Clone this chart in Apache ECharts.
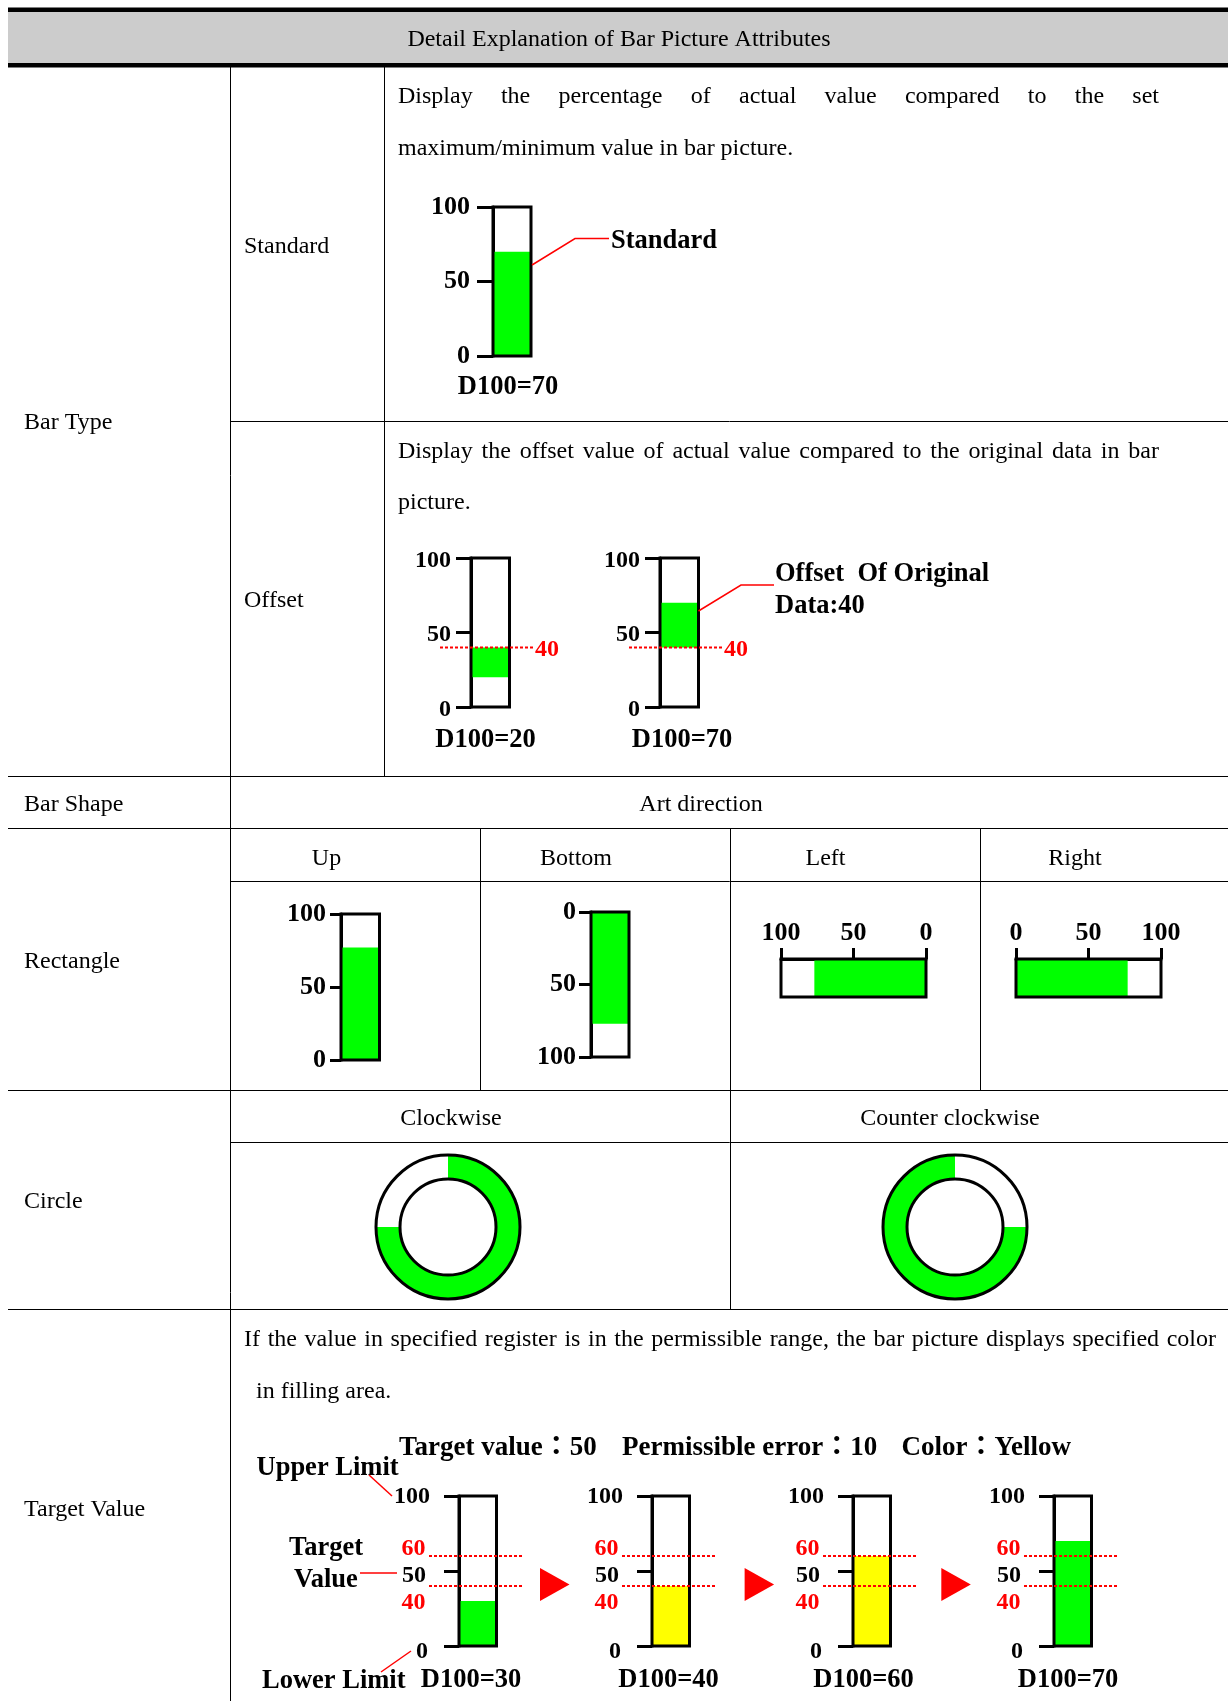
<!DOCTYPE html>
<html><head><meta charset="utf-8">
<script src="https://cdn.jsdelivr.net/npm/echarts@6/dist/echarts.min.js"></script>
<style>html,body{margin:0;padding:0;background:#fff}#c{width:1228px;height:1701px}</style>
</head><body><div id="c"></div><script>
// ---------------- data ----------------
const tickValues = [0, 50, 100];
const standardValue = 70;
const offsetOrigin = 40;
const offsetValues = [20, 70];
const rectDirections = ['Up', 'Bottom', 'Left', 'Right'];
const rectValue = 77;
const circleDirections = ['Clockwise', 'Counter clockwise'];
const circleValue = 75;
const targetValue = 50;
const permissibleError = 10;
const targetValues = [30, 40, 60, 70];

// ---------------- helpers ----------------
const FONT = '"Liberation Serif","Times New Roman","Noto Sans CJK TC",serif';
const GREEN = '#00ff00', YELLOW = '#ffff00', RED = '#ff0000';
const AXMIN = tickValues[0], AXMAX = tickValues[tickValues.length - 1], AXINT = tickValues[1] - tickValues[0];
const grids = [], xAxis = [], yAxis = [], series = [], graphics = [];
const ctx = document.createElement('canvas').getContext('2d');
const TY = 2; // vertical text nudge
const BFS = 26.5; // bold annotation font size

function txt(t, x, y, o) {
  o = o || {};
  const al = o.align || 'left';
  graphics.push({type: 'text', z: 20, silent: true, style: {
    text: t, x: x, y: y + TY, fill: o.color || '#000', fontSize: o.fs || 24, fontFamily: FONT,
    fontWeight: o.bold ? 'bold' : 'normal', align: al, verticalAlign: 'middle'}});
}
function justified(text, x0, x1, y, fs) {
  const words = text.split(' ');
  ctx.font = fs + 'px "Liberation Serif"';
  const ws = words.map(w => ctx.measureText(w).width);
  const total = ws.reduce((a, b) => a + b, 0);
  const gap = (x1 - x0 - total) / (words.length - 1);
  let x = x0;
  words.forEach((w, i) => { txt(w, x, y, {fs: fs}); x += ws[i] + gap; });
}
function hline(y, x0, x1) { graphics.push({type: 'line', z: 1, silent: true, shape: {x1: x0, y1: y, x2: x1, y2: y}, style: {stroke: '#000', lineWidth: 1}}); }
function vline(x, y0, y1) { graphics.push({type: 'line', z: 1, silent: true, shape: {x1: x, y1: y0, x2: x, y2: y1}, style: {stroke: '#000', lineWidth: 1}}); }
function poly(points, color, w) { graphics.push({type: 'polyline', z: 20, silent: true, shape: {points: points}, style: {stroke: color, lineWidth: w, fill: null}}); }

function boxGrid(o) {
  const gi = grids.length;
  grids.push({left: o.left, top: o.top, width: o.width, height: o.height, show: true,
    borderColor: '#000', borderWidth: 3, backgroundColor: 'rgba(0,0,0,0)', z: 5});
  return gi;
}
function valueAxis(gi, o) {
  return {type: 'value', gridIndex: gi, min: AXMIN, max: AXMAX, interval: AXINT, inverse: !!o.inverse,
    position: o.position, splitLine: {show: false},
    axisLine: {show: true, lineStyle: {color: '#000', width: 3}},
    axisTick: {show: true, length: o.tick, lineStyle: {color: '#000', width: 3}},
    axisLabel: {show: true, margin: o.margin, color: '#000', fontFamily: FONT, fontWeight: 'bold',
      fontSize: o.fs, formatter: o.formatter, rich: o.rich}};
}
function vBar(o) {
  const gi = boxGrid(o);
  const xi = xAxis.length; xAxis.push({type: 'category', gridIndex: gi, data: [''], show: false});
  const yi = yAxis.length; yAxis.push(valueAxis(gi, o));
  return {xi, yi};
}
function hBar(o, value) {
  const gi = boxGrid(o);
  const xi = xAxis.length; xAxis.push(valueAxis(gi, Object.assign({position: 'top'}, o)));
  const yi = yAxis.length; yAxis.push({type: 'category', gridIndex: gi, data: [''], show: false});
  series.push({type: 'bar', xAxisIndex: xi, yAxisIndex: yi, data: [value], barWidth: '100%', silent: true, itemStyle: {color: GREEN}});
}
function refLines(o) {
  const gi = grids.length;
  grids.push({left: o.left, top: o.top, width: o.width, height: o.height, show: false});
  const xi = xAxis.length; xAxis.push({type: 'value', gridIndex: gi, min: 0, max: 1, show: false});
  const yi = yAxis.length; yAxis.push({type: 'value', gridIndex: gi, min: AXMIN, max: AXMAX, show: false});
  o.lines.forEach(ln => {
    const lbl = {show: true, position: o.side, distance: o.dist, color: RED, fontFamily: FONT, fontWeight: 'bold',
      fontSize: o.fs, formatter: () => '{r|' + ln.v + '}', rich: {r: {padding: ln.pad || [0, 0, 0, 0]}}};
    const p0 = {value: [0, ln.v]}, p1 = {value: [1, ln.v]};
    if (o.side === 'left') p0.label = lbl; else p1.label = lbl;
    series.push({type: 'line', xAxisIndex: xi, yAxisIndex: yi, z: 6, silent: true, symbol: 'circle', symbolSize: 1,
      itemStyle: {color: 'rgba(0,0,0,0)'}, lineStyle: {color: RED, width: 2, type: [3, 2]},
      label: {show: false}, data: [p0, p1]});
  });
}

// ---------------- table frame ----------------
graphics.push({type: 'rect', z: 0, silent: true, shape: {x: 8, y: 12, width: 1220, height: 51}, style: {fill: '#cccccc'}});
graphics.push({type: 'rect', z: 1, silent: true, shape: {x: 8, y: 7.5, width: 1220, height: 4.5}, style: {fill: '#000'}});
graphics.push({type: 'rect', z: 1, silent: true, shape: {x: 8, y: 63, width: 1220, height: 4.5}, style: {fill: '#000'}});
hline(421.5, 231, 1228);
hline(776.5, 8, 1228);
hline(828.5, 8, 1228);
hline(881.5, 231, 1228);
hline(1090.5, 8, 1228);
hline(1142.5, 231, 1228);
hline(1309.5, 8, 1228);
vline(230.5, 67, 1701);
vline(384.5, 67, 776);
vline(480.5, 828, 1090);
vline(730.5, 828, 1309);
vline(980.5, 828, 1090);

// ---------------- texts ----------------
txt('Detail Explanation of Bar Picture Attributes', 619, 38, {align: 'center'});
txt('Bar Type', 24, 421);
txt('Standard', 244, 245);
txt('Offset', 244, 599);
txt('Bar Shape', 24, 803);
txt('Art direction', 701, 803, {align: 'center'});
const rectHeadX = [326.5, 576, 825.5, 1075];
rectDirections.forEach((d, i) => txt(d, rectHeadX[i], 857, {align: 'center'}));
txt('Rectangle', 24, 960);
const circHeadX = [451, 950];
circleDirections.forEach((d, i) => txt(d, circHeadX[i], 1117, {align: 'center'}));
txt('Circle', 24, 1200);
txt('Target Value', 24, 1508);

justified('Display the percentage of actual value compared to the set', 398, 1159, 95, 24);
txt('maximum/minimum value in bar picture.', 398, 146.5);
justified('Display the offset value of actual value compared to the original data in bar', 398, 1159, 450, 24);
txt('picture.', 398, 501);
justified('If the value in specified register is in the permissible range, the bar picture displays specified color', 244, 1216, 1338, 24);
txt('in filling area.', 256, 1390);

// ---------------- Standard ----------------
{
  const a = vBar({left: 493, top: 207, width: 38, height: 149, tick: 16, margin: 23, fs: 26});
  series.push({type: 'bar', xAxisIndex: a.xi, yAxisIndex: a.yi, data: [standardValue], barWidth: '100%', silent: true, itemStyle: {color: GREEN}});
  poly([[532, 265], [575, 238.5], [609, 238.5]], RED, 1.5);
  txt('Standard', 611, 239, {bold: true, fs: BFS});
  txt('D100=' + standardValue, 508, 385, {bold: true, fs: BFS, align: 'center'});
}

// ---------------- Offset ----------------
const offsetLefts = [471, 660];
const offsetLabelX = [485.5, 682];
offsetValues.forEach((v, i) => {
  const L = offsetLefts[i];
  const a = vBar({left: L, top: 558, width: 38.5, height: 149, tick: 15, margin: 20, fs: 24,
    formatter: val => '{p|' + val + '}', rich: {p: {padding: [5, 0, 0, 0]}}});
  const stack = 'off' + i;
  series.push({type: 'bar', stack, xAxisIndex: a.xi, yAxisIndex: a.yi, data: [Math.min(v, offsetOrigin)], barWidth: '100%', silent: true, itemStyle: {color: 'rgba(0,0,0,0)'}});
  series.push({type: 'bar', stack, xAxisIndex: a.xi, yAxisIndex: a.yi, data: [Math.abs(v - offsetOrigin)], barWidth: '100%', silent: true, itemStyle: {color: GREEN}});
  refLines({left: L - 31, top: 558, width: 38.5 + 31 + 24, height: 149, side: 'right', dist: 1, fs: 24,
    lines: [{v: offsetOrigin, pad: [5, 0, 0, 0]}]});
  txt('D100=' + v, offsetLabelX[i], 738, {bold: true, fs: BFS, align: 'center'});
});
poly([[698.5, 611], [741, 585], [774, 585]], RED, 1.5);
txt('Offset  Of Original', 775, 572, {bold: true, fs: BFS});
txt('Data:' + offsetOrigin, 775, 604, {bold: true, fs: BFS});

// ---------------- Rectangle ----------------
{
  const a = vBar({left: 341, top: 914, width: 38.5, height: 146, tick: 11, margin: 15, fs: 26});
  series.push({type: 'bar', xAxisIndex: a.xi, yAxisIndex: a.yi, data: [rectValue], barWidth: '100%', silent: true, itemStyle: {color: GREEN}});
  const b = vBar({left: 591, top: 912, width: 38, height: 145, tick: 12, margin: 15, fs: 26, inverse: true});
  series.push({type: 'bar', xAxisIndex: b.xi, yAxisIndex: b.yi, data: [rectValue], barWidth: '100%', silent: true, itemStyle: {color: GREEN}});
  hBar({left: 781, top: 959, width: 145, height: 38, tick: 11, margin: 13, fs: 26, inverse: true}, rectValue);
  hBar({left: 1016, top: 959, width: 145, height: 38, tick: 11, margin: 13, fs: 26, inverse: false}, rectValue);
}

// ---------------- Circle ----------------
const circCenters = [[448, 1227], [955, 1227]];
circleDirections.forEach((d, i) => {
  series.push({type: 'pie', center: circCenters[i], radius: [48, 72], startAngle: 90, clockwise: i === 0,
    silent: true, label: {show: false}, labelLine: {show: false}, emphasis: {disabled: true},
    itemStyle: {borderWidth: 0},
    data: [{name: d, value: circleValue, itemStyle: {color: GREEN}},
           {name: 'rest', value: AXMAX - circleValue, itemStyle: {color: '#ffffff'}}]});
  [72, 48].forEach(r => graphics.push({type: 'circle', z: 20, silent: true,
    shape: {cx: circCenters[i][0], cy: circCenters[i][1], r: r}, style: {fill: null, stroke: '#000', lineWidth: 3}}));
});

// ---------------- Target value ----------------
const targetLefts = [459, 652, 853, 1054];
const targetLabelX = [471, 668.5, 863.5, 1068];
const upper = targetValue + permissibleError, lower = targetValue - permissibleError;
targetValues.forEach((v, i) => {
  const L = targetLefts[i];
  const a = vBar({left: L, top: 1496, width: 37.5, height: 150, tick: 15, margin: 29, fs: 24,
    formatter: val => val === AXMIN ? '{lo|' + val + '}' : (val === targetValue ? '{mid|' + val + '}' : '{hi|' + val + '}'),
    rich: {lo: {padding: [12, 2, 0, 0]}, mid: {padding: [9, 4, 0, 0]}, hi: {padding: [2, 0, 0, 0]}}});
  const inRange = Math.abs(v - targetValue) <= permissibleError;
  series.push({type: 'bar', xAxisIndex: a.xi, yAxisIndex: a.yi, data: [v], barWidth: '100%', silent: true, itemStyle: {color: inRange ? YELLOW : GREEN}});
  refLines({left: L - 30, top: 1496, width: 37.5 + 30 + 26.5, height: 150, side: 'left', dist: 3, fs: 24,
    lines: [{v: upper, pad: [0, 0, 14, 0]}, {v: lower, pad: [34, 0, 0, 0]}]});
  txt('D100=' + v, targetLabelX[i], 1678, {bold: true, fs: BFS, align: 'center'});
});
[[540, 744.6, 941.3]].forEach(xs => xs.forEach(x => graphics.push({type: 'polygon', z: 20, silent: true,
  shape: {points: [[x, 1568], [x + 29.5, 1584.5], [x, 1601]]}, style: {fill: RED}})));
txt('Target value：' + targetValue, 399, 1446, {bold: true, fs: 27});
txt('Permissible error：' + permissibleError, 622, 1446, {bold: true, fs: 27});
txt('Color：Yellow', 901.5, 1446, {bold: true, fs: 27});
txt('Upper Limit', 256.5, 1466, {bold: true, fs: BFS});
poly([[369, 1475], [392, 1496]], RED, 1.5);
txt('Target', 289, 1546, {bold: true, fs: BFS});
txt('Value', 294, 1578, {bold: true, fs: BFS});
poly([[360, 1573], [397, 1573]], RED, 1.5);
txt('Lower Limit', 262, 1679, {bold: true, fs: BFS});
poly([[381, 1672], [411, 1651]], RED, 1.5);

// ---------------- chart ----------------
const chart = echarts.init(document.getElementById('c'), null, {renderer: 'canvas'});
chart.setOption({animation: false, grid: grids, xAxis: xAxis, yAxis: yAxis, series: series, graphic: graphics});
</script></body></html>
